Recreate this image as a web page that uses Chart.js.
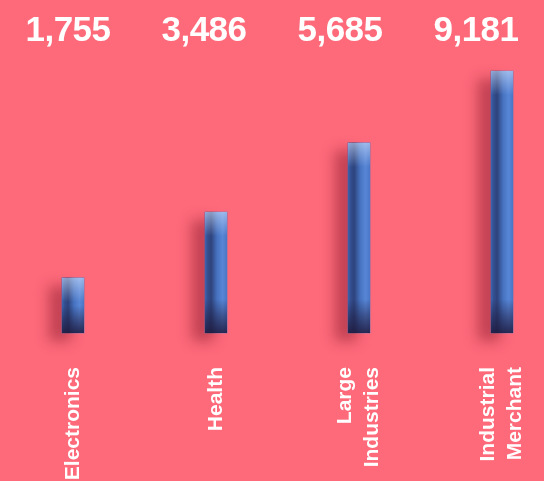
<!DOCTYPE html>
<html>
<head>
<meta charset="utf-8">
<script src="https://cdn.jsdelivr.net/npm/chart.js@4"></script>
<style>
  html, body { margin: 0; padding: 0; background: #fe6a7a; overflow: hidden; }
  #wrap { width: 544px; height: 481px; }
</style>
</head>
<body>
<div id="wrap"><canvas id="chart" width="544" height="481"></canvas></div>
<script>
// categories, totals printed at the top, bar levels as drawn
const categories = ["Electronics", "Health", ["Large", "Industries"], ["Industrial", "Merchant"]];
const totals = [1755, 3486, 5685, 9181];
const barLevels = [1930, 4240, 6660, 9181];

const FONT = "'Liberation Sans', Arial, sans-serif";
const BAR_W = 22;
const LABEL_SIZE = 21;
const LABEL_LH = 1.3;

const barFill = (context) => {
    const { chart, dataIndex } = context;
    const xScale = chart.scales.x;
    if (!chart.chartArea || !xScale) return "#4a78c8";
    const cx = xScale.getPixelForValue(dataIndex);
    if (!isFinite(cx)) return "#4a78c8";
    const x0 = cx - BAR_W / 2;
    const g = chart.ctx.createLinearGradient(x0, 0, x0 + BAR_W, 0);
    g.addColorStop(0, "#3d64b0");
    g.addColorStop(0.12, "#344f90");
    g.addColorStop(0.28, "#2e437c");
    g.addColorStop(0.55, "#4672c0");
    g.addColorStop(0.8, "#5886d6");
    g.addColorStop(1, "#4a76c6");
    return g;
};

// soft shadow behind bars
const shadowPlugin = {
    id: "barShadow",
    beforeDatasetDraw(chart) {
        const ctx = chart.ctx;
        ctx.save();
        ctx.shadowColor = "rgba(120, 15, 35, 0.45)";
        ctx.shadowBlur = 14;
        ctx.shadowOffsetX = -13;
        ctx.shadowOffsetY = 8;
    },
    afterDatasetDraw(chart) {
        chart.ctx.restore();
    }
};

// top highlight and dark foot on each bar
const shadePlugin = {
    id: "barShade",
    afterDatasetsDraw(chart) {
        const ctx = chart.ctx;
        chart.getDatasetMeta(0).data.forEach(bar => {
            const x0 = bar.x - bar.width / 2;
            const h = bar.base - bar.y;
            const capH = Math.min(24, h / 2);
            const top = ctx.createLinearGradient(0, bar.y, 0, bar.y + capH);
            top.addColorStop(0, "rgba(215,230,255,0.55)");
            top.addColorStop(1, "rgba(215,230,255,0)");
            ctx.fillStyle = top;
            ctx.fillRect(x0, bar.y, bar.width, capH);
            const footH = Math.min(34, h / 2);
            const foot = ctx.createLinearGradient(0, bar.base - footH, 0, bar.base);
            foot.addColorStop(0, "rgba(30,25,60,0)");
            foot.addColorStop(0.5, "rgba(30,25,60,0.45)");
            foot.addColorStop(1, "rgba(30,25,60,0.85)");
            ctx.fillStyle = foot;
            ctx.fillRect(x0, bar.base - footH, bar.width, footH);
        });
    }
};

// center multi-line rotated tick labels on their tick
const centerLabels = {
    id: "centerLabels",
    beforeDraw(chart) {
        const lh = LABEL_SIZE * LABEL_LH;
        chart.scales.x.getLabelItems().forEach(item => {
            if (Array.isArray(item.label) && !item._centered) {
                item.options.translation[0] -= (item.label.length - 1) * lh / 2;
                item._centered = true;
            }
        });
    }
};

// big totals across the top
const totalsPlugin = {
    id: "totals",
    afterDraw(chart) {
        const ctx = chart.ctx;
        const slot = chart.width / totals.length;
        ctx.save();
        ctx.fillStyle = "#ffffff";
        ctx.font = "bold 35px " + FONT;
        ctx.letterSpacing = "-0.5px";
        ctx.textAlign = "center";
        ctx.textBaseline = "alphabetic";
        totals.forEach((v, i) => {
            ctx.fillText(v.toLocaleString("en-US"), slot * (i + 0.5), 41);
        });
        ctx.restore();
    }
};

const ctx = document.getElementById("chart").getContext("2d");
new Chart(ctx, {
    type: "bar",
    data: {
        labels: categories,
        datasets: [{
            data: barLevels,
            backgroundColor: barFill,
            borderWidth: 0,
            barThickness: BAR_W,
            clip: false
        }]
    },
    options: {
        responsive: false,
        animation: false,
        layout: { padding: { top: 71, left: 73, right: 42, bottom: 0 } },
        plugins: {
            legend: { display: false },
            tooltip: { enabled: false }
        },
        scales: {
            x: {
                offset: false,
                grid: { display: false, drawTicks: false },
                border: { display: false },
                ticks: {
                    color: "#ffffff",
                    font: { family: FONT, size: LABEL_SIZE, weight: "bold", lineHeight: LABEL_LH },
                    minRotation: 90,
                    maxRotation: 90,
                    padding: 34,
                    autoSkip: false
                },
                afterFit: scale => {
                    scale.height = 148;
                    scale.paddingLeft = 0;
                    scale.paddingRight = 0;
                }
            },
            y: {
                display: false,
                min: 0,
                max: Math.max(...barLevels)
            }
        }
    },
    plugins: [shadowPlugin, shadePlugin, centerLabels, totalsPlugin]
});
</script>
</body>
</html>
